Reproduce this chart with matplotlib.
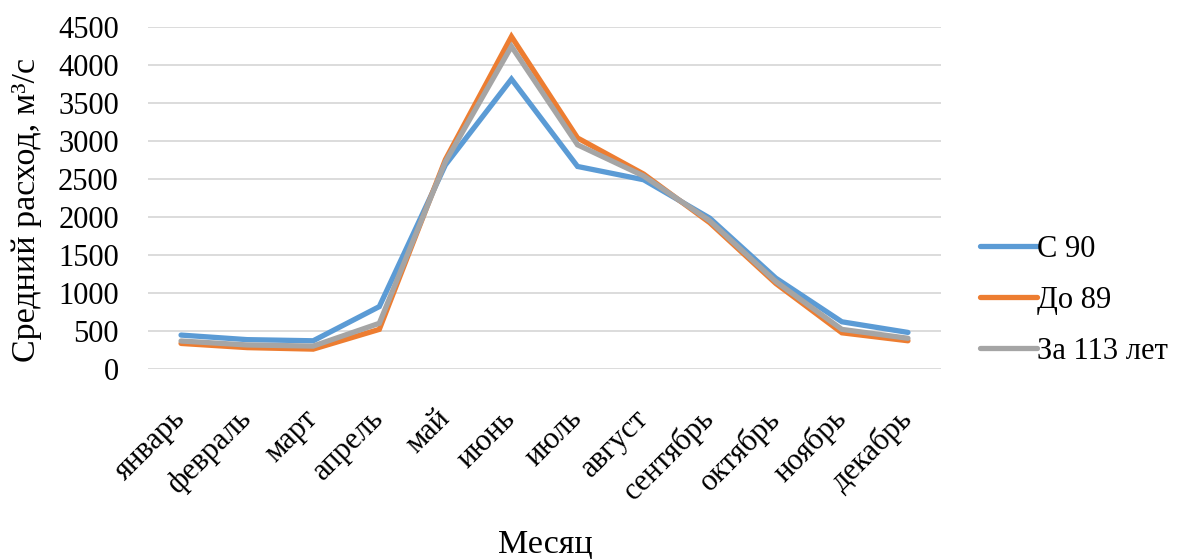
import matplotlib
matplotlib.use("Agg")
import matplotlib.pyplot as plt

months = ["январь", "февраль", "март", "апрель", "май", "июнь",
          "июль", "август", "сентябрь", "октябрь", "ноябрь", "декабрь"]
since_90 = [440, 380, 365, 815, 2680, 3810, 2660, 2485, 1980, 1190, 615, 475]
before_89 = [330, 275, 255, 515, 2750, 4370, 3035, 2560, 1920, 1120, 470, 365]
all_113 = [362, 310, 295, 595, 2720, 4240, 2945, 2535, 1945, 1145, 515, 398]
series_names = ["С 90", "До 89", "За 113 лет"]
y_ticks = [0, 500, 1000, 1500, 2000, 2500, 3000, 3500, 4000, 4500]

plt.rcParams["font.family"] = ["Liberation Serif", "DejaVu Serif"]
FS = 22
FS_TITLE = 24.5

W, H = 1178, 559
fig = plt.figure(figsize=(W / 100, H / 100), dpi=100)
ax = fig.add_axes([148 / W, (H - 368.5) / H, (941 - 148) / W, (368.5 - 26.7) / H])

colors = ["#5B9BD5", "#ED7D31", "#A5A5A5"]
x = list(range(len(months)))
for vals, name, c in zip([since_90, before_89, all_113], series_names, colors):
    ax.plot(x, vals, color=c, lw=3.8, label=name, solid_capstyle="round",
            solid_joinstyle="miter")

ax.set_xlim(-0.5, len(months) - 0.5)
ax.set_ylim(0, 4500)
ax.set_yticks(y_ticks)
ax.set_yticklabels([str(v) for v in y_ticks], fontsize=FS)
ax.yaxis.grid(True, color="#D9D9D9", lw=1.3)
ax.set_axisbelow(True)
for s in ax.spines.values():
    s.set_visible(False)
ax.tick_params(axis="y", length=0, pad=21)
ax.tick_params(axis="x", length=0, pad=33)

ax.set_xticks(x)
ax.set_xticklabels(months, fontsize=FS, rotation=45, ha="right",
                   rotation_mode="anchor", va="center")

# axis titles placed at fixed figure positions
fig.text(545 / W, 1 - 544 / H, "Месяц", fontsize=FS_TITLE, ha="center", va="center")
fig.text(27 / W, 1 - 210 / H, "Средний расход, м³/с", fontsize=FS_TITLE,
         ha="center", va="center", rotation=90)

leg = ax.legend(loc="center left", bbox_to_anchor=(1.015, 0.2), frameon=False,
                fontsize=FS, handlelength=1.85, handletextpad=0.0,
                labelspacing=0.72)

fig.savefig("out.png", dpi=100)
